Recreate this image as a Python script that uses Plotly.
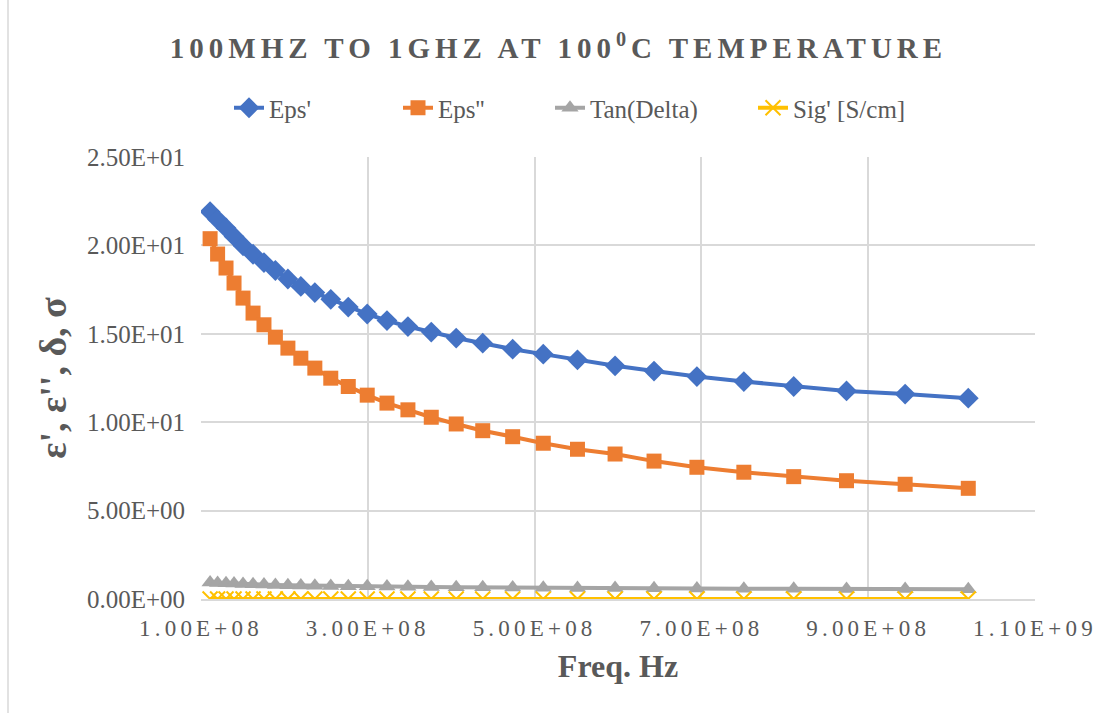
import plotly.graph_objects as go

# ---- data ----
freq_hz = [1.109e8, 1.199e8, 1.300e8, 1.396e8, 1.504e8, 1.624e8, 1.755e8, 1.892e8,
           2.042e8, 2.197e8, 2.365e8, 2.556e8, 2.766e8, 2.993e8, 3.230e8, 3.481e8,
           3.761e8, 4.060e8, 4.378e8, 4.737e8, 5.104e8, 5.514e8, 5.965e8, 6.432e8,
           6.946e8, 7.509e8, 8.107e8, 8.740e8, 9.443e8, 1.020e9]

eps_real = [21.91, 21.46, 20.99, 20.51, 19.98, 19.50, 19.03, 18.58, 18.10, 17.68,
            17.33, 16.95, 16.51, 16.12, 15.75, 15.41, 15.10, 14.76, 14.47, 14.13,
            13.85, 13.53, 13.19, 12.89, 12.58, 12.30, 12.02, 11.77, 11.59, 11.36]

eps_imag = [20.38, 19.51, 18.72, 17.87, 17.02, 16.17, 15.51, 14.81, 14.19, 13.62,
            13.06, 12.49, 12.02, 11.53, 11.08, 10.70, 10.28, 9.90, 9.52, 9.18,
            8.81, 8.47, 8.20, 7.80, 7.45, 7.17, 6.92, 6.69, 6.49, 6.26]

tan_delta = [0.930, 0.909, 0.892, 0.871, 0.851, 0.829, 0.815, 0.797, 0.784, 0.770,
             0.753, 0.736, 0.728, 0.715, 0.703, 0.694, 0.681, 0.671, 0.658, 0.650,
             0.636, 0.626, 0.622, 0.605, 0.592, 0.583, 0.576, 0.568, 0.560, 0.551]

sig_scm = [0.00126, 0.00130, 0.00135, 0.00139, 0.00142, 0.00146, 0.00151, 0.00156,
           0.00161, 0.00166, 0.00172, 0.00178, 0.00185, 0.00192, 0.00199, 0.00207,
           0.00215, 0.00224, 0.00232, 0.00242, 0.00250, 0.00260, 0.00272, 0.00279,
           0.00288, 0.00299, 0.00312, 0.00325, 0.00341, 0.00355]

x_tickvals = [1e8, 3e8, 5e8, 7e8, 9e8, 1.1e9]
x_ticktext = ["1.00E+08", "3.00E+08", "5.00E+08", "7.00E+08", "9.00E+08", "1.10E+09"]
y_tickvals = [0, 5, 10, 15, 20, 25]
y_ticktext = ["0.00E+00", "5.00E+00", "1.00E+01", "1.50E+01", "2.00E+01", "2.50E+01"]

series_names = ["Eps'", "Eps''", "Tan(Delta)", "Sig' [S/cm]"]

# ---- styling ----
FONT = "Liberation Serif, Times New Roman, serif"
TXT = "#595959"
GRID = "#D9D9D9"
colors = ["#4472C4", "#ED7D31", "#A5A5A5", "#FFC000"]
legend_ids = ["legend", "legend2", "legend3", "legend4"]
legend_left_px = [229, 398, 550, 753]
symbols = ["diamond", "square", "triangle-up", "x-thin"]
sizes = [16, 15, 15, 15]
series_values = [eps_real, eps_imag, tan_delta, sig_scm]

fig = go.Figure()
for name, vals, col, sym, sz, lid in zip(series_names, series_values, colors, symbols, sizes, legend_ids):
    marker = dict(symbol=sym, size=sz, color=col)
    if sym == "x-thin":
        marker["line"] = dict(color=col, width=2)
    fig.add_trace(go.Scatter(x=freq_hz, y=vals, name=name, mode="lines+markers",
                             line=dict(color=col, width=4), marker=marker,
                             legend=lid, showlegend=True))

def spaced(t, px):
    return '<span style="letter-spacing:%spx">%s</span>' % (px, t)

def legend_at(xpix):
    return dict(orientation="h", font=dict(family=FONT, size=25, color=TXT),
                bgcolor="rgba(0,0,0,0)", yanchor="middle", y=1 + (157 - 108) / 442,
                xanchor="left", x=(xpix - 201) / 834, visible=True)

layout_legends = {lid: legend_at(px) for lid, px in zip(legend_ids, legend_left_px)}

fig.update_layout(
    width=1099, height=713,
    font=dict(family=FONT, color=TXT),
    paper_bgcolor="white", plot_bgcolor="white",
    showlegend=True,
    margin=dict(l=201, r=64, t=157, b=114, autoexpand=False),
    title=dict(text=spaced("100MHZ TO 1GHZ AT 100<sup>0</sup>C TEMPERATURE", 5),
               font=dict(family=FONT, size=29, color=TXT, weight="bold"),
               x=558.5 / 1099, xref="container", xanchor="center",
               y=1 - 48 / 713, yref="container", yanchor="middle"),
    xaxis=dict(range=[1e8, 1.1e9], tickvals=x_tickvals,
               ticktext=[spaced(t, 4.2) for t in x_ticktext],
               showgrid=True, gridcolor=GRID, gridwidth=1.5, zeroline=False,
               showline=True, linecolor=GRID, linewidth=1.5,
               ticks="", ticklabelstandoff=8, automargin=False,
               tickfont=dict(family=FONT, size=23, color=TXT),
               title=dict(text="<b>Freq. Hz</b>", standoff=14,
                          font=dict(family=FONT, size=32, color=TXT))),
    yaxis=dict(range=[0, 25], tickvals=y_tickvals, ticktext=y_ticktext,
               showgrid=True, gridcolor=GRID, gridwidth=1.5, zeroline=False,
               showline=False, ticks="", ticklabelstandoff=15, automargin=False,
               tickfont=dict(family=FONT, size=25, color=TXT),
               title=dict(text="<b>ε', ε'', δ, σ</b>", standoff=8,
                          font=dict(family=FONT, size=38, color=TXT))),
    shapes=[dict(type="line", xref="paper", yref="paper", x0=-(201 - 8) / 834, x1=-(201 - 8) / 834,
                 y0=-114 / 442, y1=1 + 157 / 442, line=dict(color=GRID, width=1.5))],
    **layout_legends,
)

fig.write_html("out.html",
               config={"displayModeBar": False},
               post_script="document.body.style.margin='0px';"
                           "document.documentElement.style.overflow='hidden';")
